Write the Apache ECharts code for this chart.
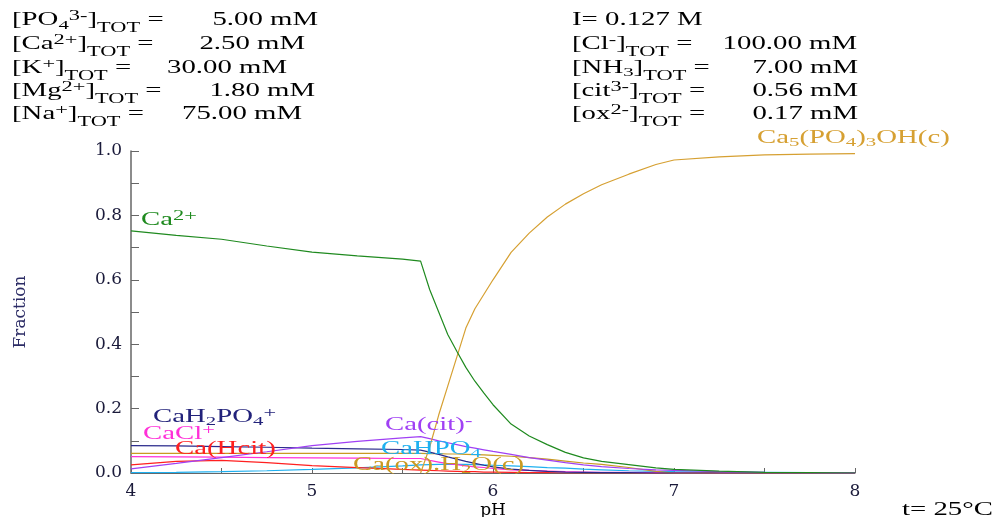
<!DOCTYPE html>
<html><head><meta charset="utf-8">
<script src="https://cdn.jsdelivr.net/npm/echarts@6/dist/echarts.min.js"></script>
<style>html,body{margin:0;padding:0;background:#fff}#c{width:992px;height:517px}</style>
</head><body><div id="c"></div>
<script>
// ---- data ----
const pH = [4.0,4.25,4.5,4.75,5.0,5.25,5.5,5.6,5.65,5.7,5.75,5.8,5.85,5.9,5.95,6.0,6.1,6.2,6.3,6.4,6.5,6.6,6.75,6.9,7.0,7.25,7.5,7.75,8.0];
const caFree   = [0.752,0.738,0.726,0.705,0.686,0.674,0.664,0.658,0.57,0.5,0.43,0.378,0.328,0.285,0.248,0.212,0.152,0.115,0.088,0.064,0.047,0.036,0.026,0.016,0.011,0.006,0.002,0.001,0];
const apatite  = [null,null,null,null,null,null,null,0,0.08,0.18,0.27,0.36,0.45,0.51,0.555,0.6,0.685,0.745,0.795,0.835,0.867,0.895,0.928,0.958,0.972,0.982,0.988,0.99,0.992];
const caH2PO4  = [0.085,0.084,0.082,0.08,0.077,0.075,0.073,0.071,0.065,0.058,0.05,0.043,0.036,0.03,0.024,0.019,0.012,0.008,0.005,0.003,0.002,0.001,0.001,0,0,0,0,0,0];
const caCl     = [0.051,0.05,0.049,0.048,0.047,0.046,0.045,0.045,0.039,0.034,0.029,0.026,0.022,0.019,0.017,0.014,0.01,0.008,0.006,0.004,0.003,0.002,0.002,0.001,0.001,0,0,0,0];
const caHcit   = [0.025,0.036,0.039,0.032,0.023,0.017,0.011,0.009,0.008,0.007,0.006,0.005,0.004,0.004,0.003,0.003,0.002,0.001,0.001,0,0,0,0,0,0,0,0,0,0];
const caCit    = [0.013,0.03,0.048,0.066,0.085,0.098,0.109,0.113,0.107,0.1,0.094,0.088,0.082,0.077,0.072,0.067,0.058,0.048,0.04,0.032,0.025,0.02,0.014,0.01,0.008,0.004,0.002,0.001,0];
const caHPO4   = [0.001,0.002,0.004,0.007,0.011,0.016,0.022,0.025,0.026,0.027,0.027,0.027,0.027,0.026,0.025,0.024,0.022,0.02,0.017,0.015,0.012,0.01,0.007,0.005,0.004,0.003,0.002,0.001,0.001];
const caOx     = [0.061,0.061,0.061,0.061,0.061,0.061,0.061,0.061,0.06,0.06,0.059,0.059,0.058,0.057,0.056,0.055,0.052,0.048,0.043,0.037,0.031,0.027,0.017,0.005,0,0,0,0,0];

const xTicks = [4,5,6,7,8];
const yTicks = ['0.0','0.2','0.4','0.6','0.8','1.0'];

// header texts
const leftLabels  = ['[PO{sub|4}{sup|3-}]{tot|TOT} =','[Ca{sup|2+}]{tot|TOT} =','[K{sup|+}]{tot|TOT} =','[Mg{sup|2+}]{tot|TOT} =','[Na{sup|+}]{tot|TOT} ='];
const leftValues  = ['5.00 mM','2.50 mM','30.00 mM','1.80 mM','75.00 mM'];
const rightLabels = ['I= 0.127 M','[Cl{sup|-}]{tot|TOT} =','[NH{sub|3}]{tot|TOT} =','[cit{sup|3-}]{tot|TOT} =','[ox{sup|2-}]{tot|TOT} ='];
const rightValues = ['','100.00 mM','7.00 mM','0.56 mM','0.17 mM'];

// ---- styling ----
const F = 'Liberation Serif';
const SX = 1.6;
const leftValueRight = [318,305,287,315,302];
const rightValueRight = [0,857,858,858,858];
const rowBase = [26.7,50,74,97.3,120.7];

function richFor(c){
  return {
    sub:{fontSize:13,fontFamily:F,fill:c,padding:[9,0,0,0]},
    tot:{fontSize:14,fontFamily:F,fill:c,padding:[16,0,0,0]},
    sup:{fontSize:14,fontFamily:F,fill:c,padding:[0,0,8,0]}
  };
}
function txt(x, base, text, color, align){
  return {type:'text', x:x, y:base-6.1, scaleX:SX, z:100,
    style:{text:text, fill:color, fontSize:18, fontFamily:F, align:align||'left', verticalAlign:'middle', rich:richFor(color)}};
}

const graphics = [];
for (let i=0;i<5;i++){
  graphics.push(txt(12,rowBase[i],leftLabels[i],'#000'));
  graphics.push(txt(leftValueRight[i],rowBase[i],leftValues[i],'#000','right'));
  graphics.push(txt(572,rowBase[i],rightLabels[i],'#000'));
  if (rightValues[i]) graphics.push(txt(rightValueRight[i],rowBase[i],rightValues[i],'#000','right'));
}
const C = {
  ca:'#1f8a1f', ap:'#d6a032', h2po4:'#2b2b8c', cl:'#ff30d8', hcit:'#ff2020', cit:'#a040f4', hpo4:'#1eb0f0', ox:'#c99a22'
};
graphics.push(txt(141,226.7,'Ca{sup|2+}',C.ca));
graphics.push(txt(757,144,'Ca{sub|5}(PO{sub|4}){sub|3}OH(c)',C.ap));
graphics.push(txt(153,423.3,'CaH{sub|2}PO{sub|4}{sup|+}','#22227a'));
graphics.push(txt(143,440,'CaCl{sup|+}',C.cl));
graphics.push(txt(175,455,'Ca(Hcit)',C.hcit));
graphics.push(txt(385,431,'Ca(cit){sup|-}',C.cit));
graphics.push(txt(381,455,'CaHPO{sub|4}',C.hpo4));
graphics.push(txt(353,471,'Ca(ox).H{sub|2}O(c)',C.ox));
graphics.push(txt(902,516,'t= 25°C','#000'));

function pairs(v){ const out=[]; pH.forEach((x,i)=>{ if(v[i]!==null) out.push([x,v[i]]); }); return out; }
function line(name, v, color){
  return {name:name, type:'line', data:pairs(v), symbol:'none', smooth:false,
    lineStyle:{color:color,width:1.2}, itemStyle:{color:color}, emphasis:{disabled:true}};
}

const axisFont = {fontFamily:'DejaVu Serif', fontSize:17, color:'#1a1a3a'};
const chart = echarts.init(document.getElementById('c'), null, {renderer:'canvas'});
chart.setOption({
  animation:false,
  backgroundColor:'#fff',
  grid:{left:131, top:151, width:724, height:322, containLabel:false, outerBoundsMode:'none'},
  xAxis:{type:'value', min:xTicks[0], max:xTicks[xTicks.length-1], interval:1,
    name:'pH', nameLocation:'middle', nameGap:29, nameMoveOverlap:false,
    nameTextStyle:{fontFamily:'DejaVu Serif', fontSize:17, color:'#000'},
    axisLine:{show:true, onZero:false, lineStyle:{color:'#666', width:1}},
    axisTick:{show:true, inside:true, length:5, lineStyle:{color:'#666'}},
    minorTick:{show:true, splitNumber:2, length:5, lineStyle:{color:'#666'}},
    splitLine:{show:false},
    axisLabel:Object.assign({margin:10, formatter:v=>String(v)}, axisFont)},
  yAxis:{type:'value', min:0, max:1, interval:0.2,
    name:'Fraction', nameLocation:'middle', nameGap:102, nameRotate:90, nameMoveOverlap:false,
    nameTextStyle:{fontFamily:'DejaVu Serif', fontSize:17, color:'#2c2c66'},
    axisLine:{show:true, lineStyle:{color:'#666', width:1.5}},
    axisTick:{show:true, inside:true, length:8, lineStyle:{color:'#666'}},
    minorTick:{show:true, splitNumber:2, length:8, lineStyle:{color:'#666'}},
    splitLine:{show:false},
    axisLabel:Object.assign({margin:9, formatter:v=>yTicks[Math.round(v*5)]}, axisFont)},
  graphic:graphics,
  series:[
    line('CaHPO4', caHPO4, C.hpo4),
    line('Ca(Hcit)', caHcit, C.hcit),
    line('CaCl+', caCl, C.cl),
    line('Ca(ox).H2O(c)', caOx, C.ox),
    line('CaH2PO4+', caH2PO4, C.h2po4),
    line('Ca(cit)-', caCit, C.cit),
    line('Ca5(PO4)3OH(c)', apatite, C.ap),
    line('Ca2+', caFree, C.ca)
  ]
});
</script></body></html>
